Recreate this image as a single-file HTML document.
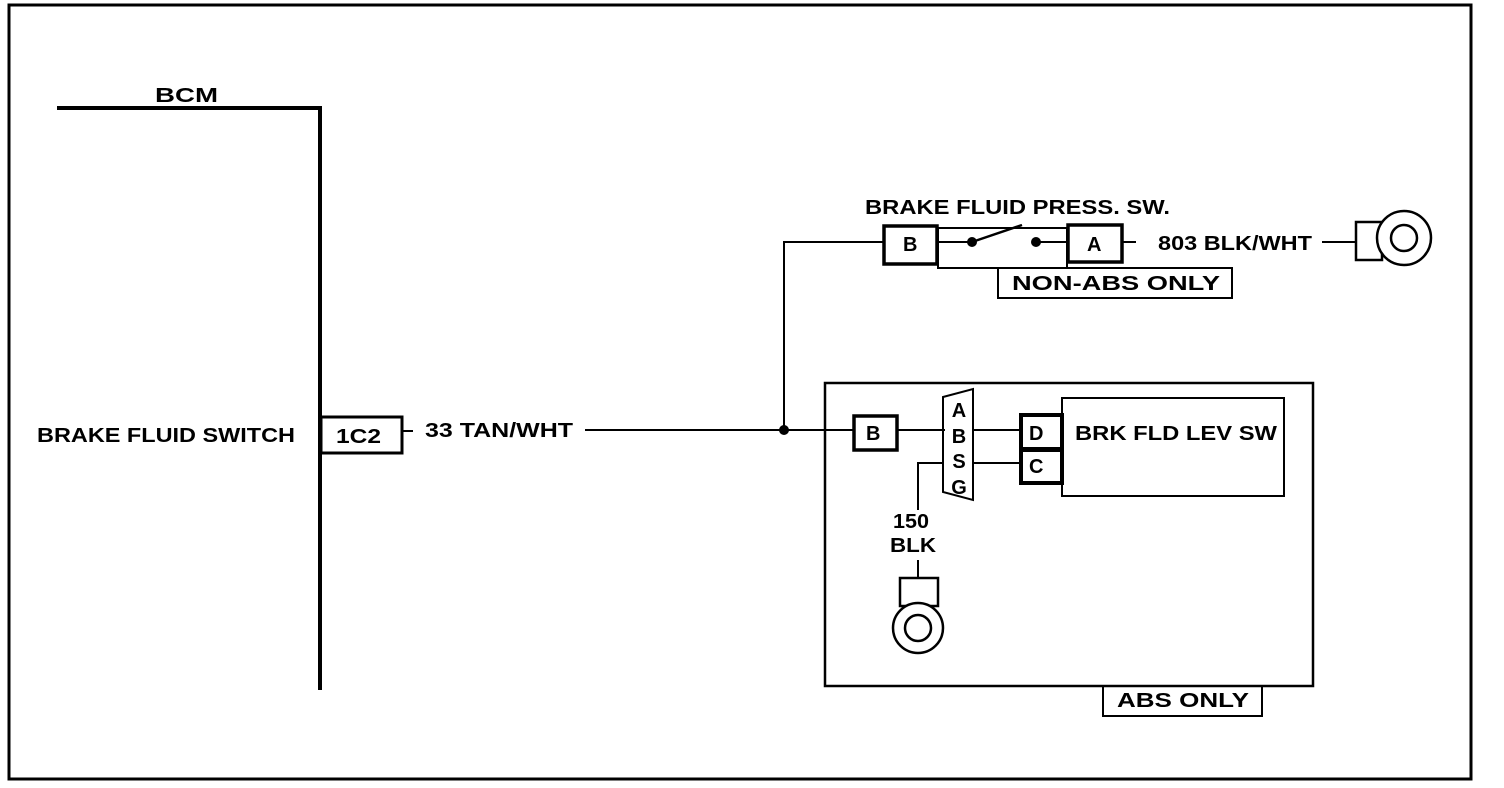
<!DOCTYPE html>
<html><head><style>html,body{margin:0;padding:0;background:#fff}svg{display:block}text{font-family:"Liberation Sans",sans-serif;font-weight:bold;font-size:20px;fill:#000}</style></head>
<body>
<svg width="1504" height="788" viewBox="0 0 1504 788" xmlns="http://www.w3.org/2000/svg">
<g fill="none" stroke="#000">
<rect x="9" y="5" width="1462" height="774" stroke-width="3"/>
<polyline points="57,108 320,108 320,690" stroke-width="4"/>
<rect x="321" y="417" width="81" height="36" stroke-width="3"/>
<line x1="402" y1="431" x2="413" y2="431" stroke-width="2"/>
<line x1="585" y1="430" x2="853" y2="430" stroke-width="2"/>
<polyline points="784,430 784,242 883,242" stroke-width="2"/>
<rect x="884" y="226" width="53" height="38" stroke-width="3.5"/>
<rect x="938" y="228" width="129" height="40" stroke-width="2"/>
<line x1="937" y1="242" x2="972" y2="242" stroke-width="2"/>
<line x1="972" y1="242" x2="1022" y2="225" stroke-width="2.5"/>
<line x1="1036" y1="242" x2="1067" y2="242" stroke-width="2"/>
<rect x="1068" y="225" width="54" height="37" stroke-width="3.5"/>
<line x1="1122" y1="242" x2="1136" y2="242" stroke-width="2"/>
<line x1="1322" y1="242" x2="1356" y2="242" stroke-width="2"/>
<rect x="1356" y="222" width="26" height="38" stroke-width="2.5"/>
<circle cx="1404" cy="238" r="27" fill="#fff" stroke-width="2.5"/>
<circle cx="1404" cy="238" r="13" stroke-width="2.5"/>
<rect x="998" y="268" width="234" height="30" stroke-width="2"/>
<rect x="825" y="383" width="488" height="303" stroke-width="2.5"/>
<rect x="1103" y="686" width="159" height="30" stroke-width="2"/>
<rect x="854" y="416" width="43" height="34" stroke-width="3.5"/>
<line x1="897" y1="430" x2="945" y2="430" stroke-width="2"/>
<polygon points="943,397 973,389 973,500 943,492" stroke-width="2"/>
<line x1="973" y1="430" x2="1020" y2="430" stroke-width="2"/>
<line x1="973" y1="463" x2="1020" y2="463" stroke-width="2"/>
<polyline points="943,463 918,463 918,510" stroke-width="2"/>
<line x1="918" y1="560" x2="918" y2="578" stroke-width="2"/>
<rect x="1062" y="398" width="222" height="98" stroke-width="2"/>
<rect x="1021" y="415" width="41" height="34" stroke-width="4"/>
<rect x="1021" y="450" width="41" height="33" stroke-width="4"/>
<rect x="900" y="578" width="38" height="28" stroke-width="2.5"/>
<circle cx="918" cy="628" r="25" fill="#fff" stroke-width="2.5"/>
<circle cx="918" cy="628" r="13" stroke-width="2.5"/>
</g>
<circle cx="784" cy="430" r="5"/>
<circle cx="972" cy="242" r="5"/>
<circle cx="1036" cy="242" r="5"/>
<text x="155" y="102" font-size="21" textLength="63" lengthAdjust="spacingAndGlyphs">BCM</text>
<text x="37" y="442" textLength="258" lengthAdjust="spacingAndGlyphs">BRAKE FLUID SWITCH</text>
<text x="336" y="443" textLength="45" lengthAdjust="spacingAndGlyphs">1C2</text>
<text x="425" y="437" textLength="148" lengthAdjust="spacingAndGlyphs">33 TAN/WHT</text>
<text x="865" y="214" textLength="305" lengthAdjust="spacingAndGlyphs">BRAKE FLUID PRESS. SW.</text>
<text x="903" y="251">B</text>
<text x="1087" y="251">A</text>
<text x="1158" y="250" textLength="154" lengthAdjust="spacingAndGlyphs">803 BLK/WHT</text>
<text x="1012" y="290" textLength="208" lengthAdjust="spacingAndGlyphs">NON-ABS ONLY</text>
<text x="1117" y="707" textLength="132" lengthAdjust="spacingAndGlyphs">ABS ONLY</text>
<text x="866" y="440" font-size="18">B</text>
<text x="959" y="417" text-anchor="middle" font-size="19">A</text>
<text x="959" y="443" text-anchor="middle" font-size="19">B</text>
<text x="959" y="468" text-anchor="middle" font-size="19">S</text>
<text x="959" y="494" text-anchor="middle" font-size="19">G</text>
<text x="1029" y="440">D</text>
<text x="1029" y="473">C</text>
<text x="1075" y="440" textLength="202" lengthAdjust="spacingAndGlyphs">BRK FLD LEV SW</text>
<text x="893" y="528" textLength="36" lengthAdjust="spacingAndGlyphs">150</text>
<text x="890" y="552" textLength="46" lengthAdjust="spacingAndGlyphs">BLK</text>
</svg>
</body></html>
